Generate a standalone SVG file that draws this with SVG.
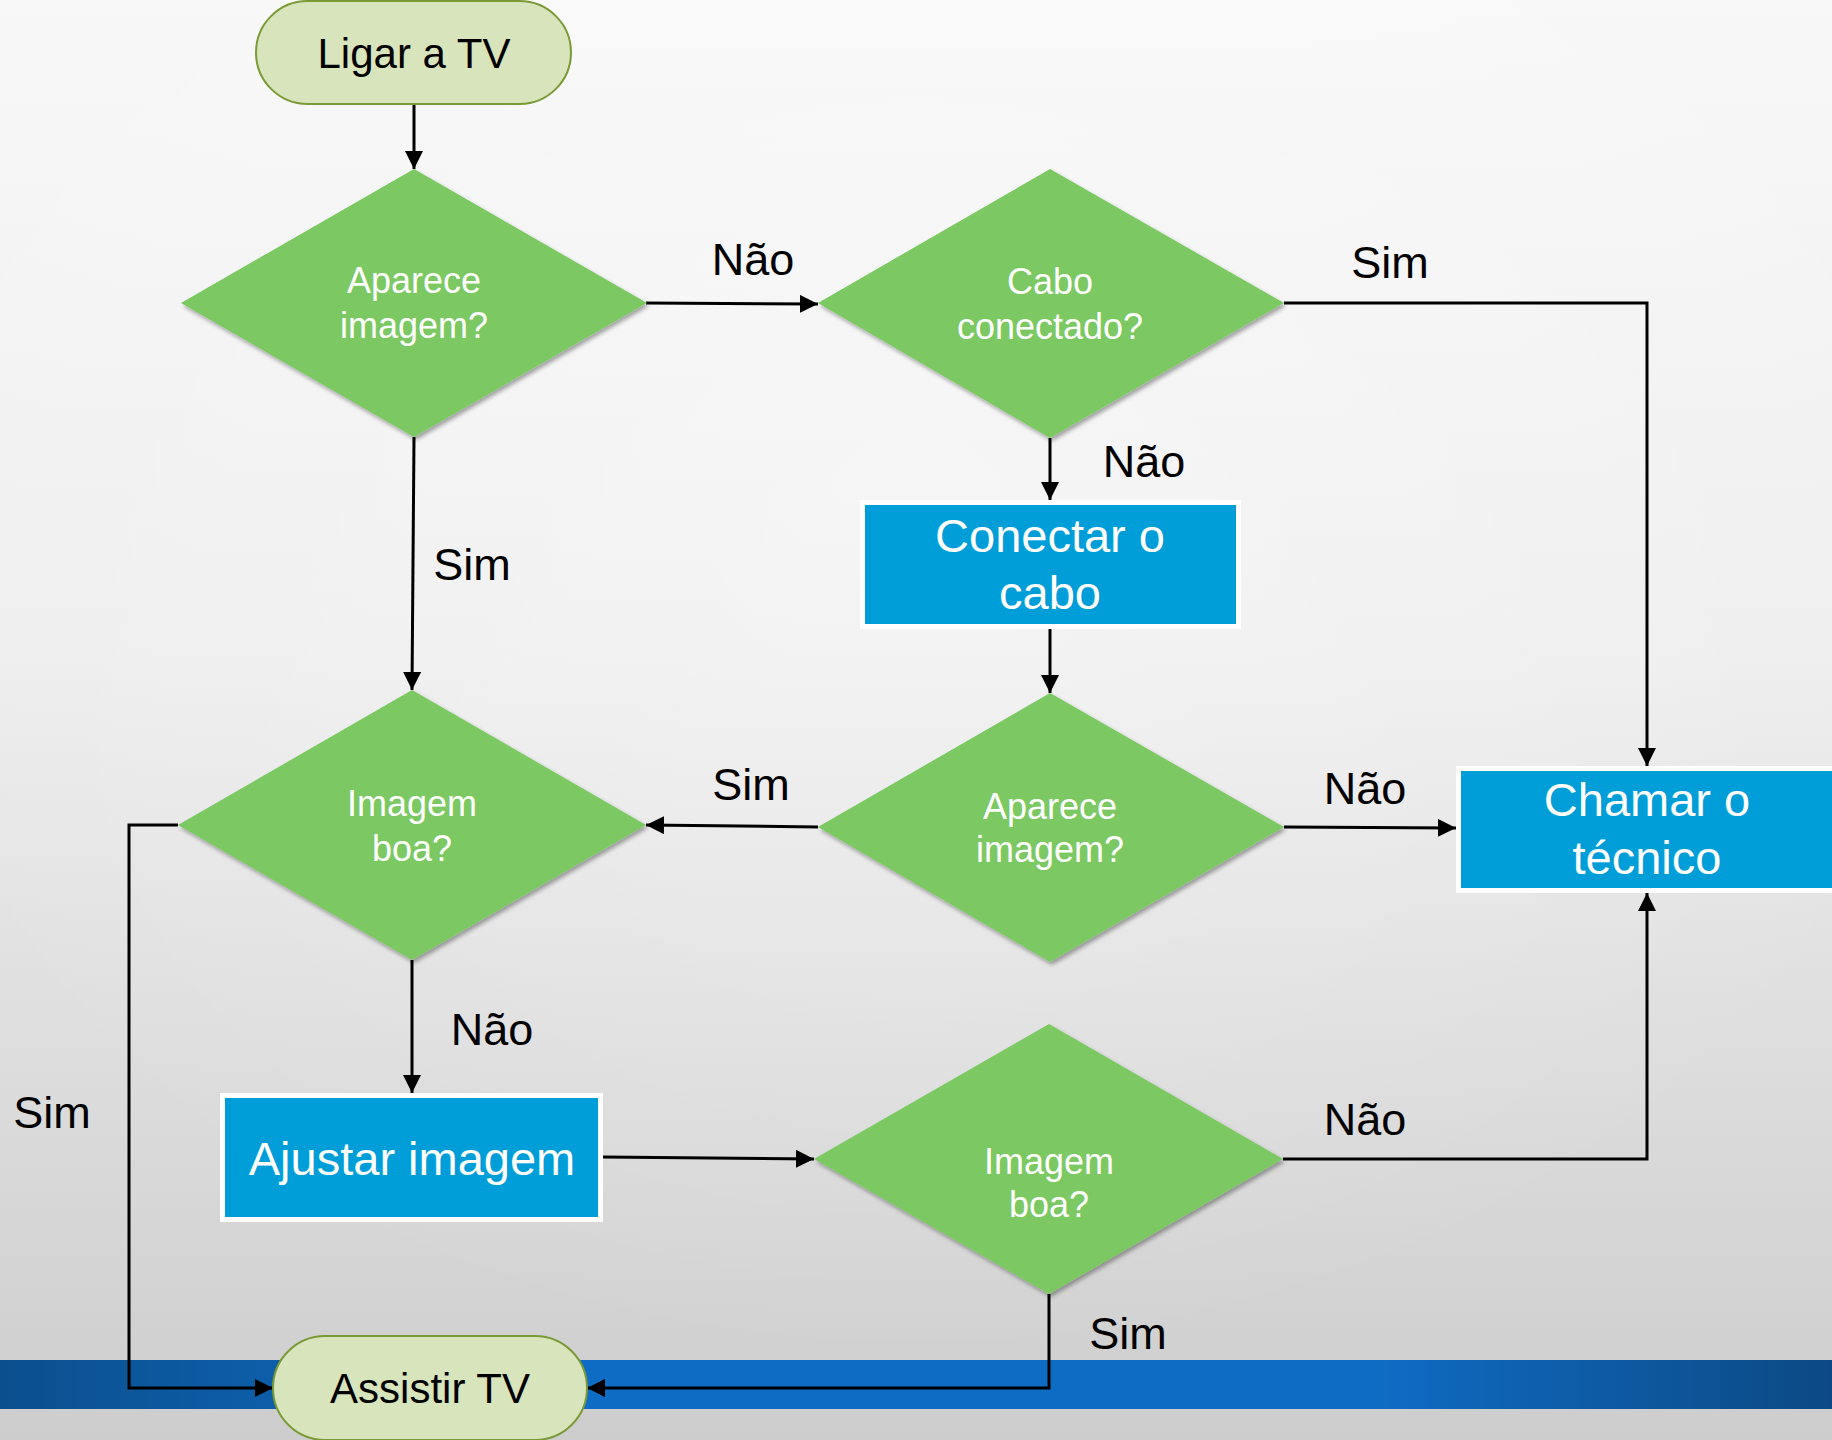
<svg xmlns="http://www.w3.org/2000/svg" width="1832" height="1440" viewBox="0 0 1832 1440">
  <defs>
    <linearGradient id="bg" x1="0" y1="0" x2="0" y2="1">
      <stop offset="0" stop-color="#f8f8f8"/>
      <stop offset="0.45" stop-color="#eeeeee"/>
      <stop offset="1" stop-color="#cdcdcd"/>
    </linearGradient>
    <radialGradient id="glow" cx="0.5" cy="0.35" r="0.6">
      <stop offset="0" stop-color="#ffffff" stop-opacity="0.35"/>
      <stop offset="1" stop-color="#ffffff" stop-opacity="0"/>
    </radialGradient>
    <linearGradient id="band" x1="0" y1="0" x2="1" y2="0">
      <stop offset="0" stop-color="#0b4f8e"/>
      <stop offset="0.3" stop-color="#0f6cc4"/>
      <stop offset="0.75" stop-color="#0f6cc4"/>
      <stop offset="1" stop-color="#0c4984"/>
    </linearGradient>
    <filter id="shadow" x="-10%" y="-10%" width="125%" height="125%">
      <feGaussianBlur in="SourceAlpha" stdDeviation="2"/>
      <feOffset dx="2" dy="3" result="b"/>
      <feComponentTransfer><feFuncA type="linear" slope="0.35"/></feComponentTransfer>
      <feMerge><feMergeNode/><feMergeNode in="SourceGraphic"/></feMerge>
    </filter>
    <marker id="arrow" viewBox="0 0 10 10" refX="10" refY="5" markerWidth="6" markerHeight="6" markerUnits="strokeWidth" orient="auto">
      <path d="M0,0 L10,5 L0,10 z" fill="#000"/>
    </marker>
    <style>
      .term { fill: #d7e4bc; stroke: #7a9a35; stroke-width: 2; }
      .dec { fill: #7bc862; filter: url(#shadow); }
      .proc { fill: #009ed9; stroke: #ffffff; stroke-width: 5; }
      .t { font-family: "Liberation Sans", Arial, sans-serif; text-anchor: middle; }
      .dtxt { font-size: 36px; fill: #ffffff; }
      .ptxt { font-size: 47px; fill: #ffffff; }
      .ttxt { font-size: 42px; fill: #000000; }
      .lbl { font-family: "Liberation Sans", Arial, sans-serif; font-size: 45px; fill: #000000; }
      .edge { fill: none; stroke: #000000; stroke-width: 3; marker-end: url(#arrow); }
      .edge0 { fill: none; stroke: #000000; stroke-width: 3; }
    </style>
  </defs>

  <!-- backdrop -->
  <rect x="0" y="0" width="1832" height="1440" fill="url(#bg)"/>
  <rect x="0" y="0" width="1832" height="1440" fill="url(#glow)"/>
  <rect x="0" y="1360" width="1832" height="49" fill="url(#band)"/>

  <!-- connectors -->
  <g id="connectors">
    <path class="edge" d="M414,104 L414,169"/>
    <path class="edge" d="M646,303 L818,304"/>
    <path class="edge" d="M1284,303 L1647,303 L1647,766"/>
    <path class="edge" d="M1050,438 L1050,500"/>
    <path class="edge" d="M1050,629 L1050,693"/>
    <path class="edge" d="M414,437 L412,690"/>
    <path class="edge" d="M818,827 L646,825"/>
    <path class="edge" d="M1284,827 L1456,828"/>
    <path class="edge" d="M412,960 L412,1093"/>
    <path class="edge" d="M603,1157 L814,1159"/>
    <path class="edge" d="M1283,1159 L1647,1159 L1647,893"/>
    <path class="edge" d="M178,825 L129,825 L129,1388 L273,1388"/>
    <path class="edge" d="M1049,1294 L1049,1388 L587,1388"/>
  </g>

  <!-- edge labels -->
  <g id="labels">
    <text class="lbl" x="753" y="275" text-anchor="middle">Não</text>
    <text class="lbl" x="1390" y="278" text-anchor="middle">Sim</text>
    <text class="lbl" x="1144" y="477" text-anchor="middle">Não</text>
    <text class="lbl" x="472" y="580" text-anchor="middle">Sim</text>
    <text class="lbl" x="751" y="800" text-anchor="middle">Sim</text>
    <text class="lbl" x="1365" y="804" text-anchor="middle">Não</text>
    <text class="lbl" x="492" y="1045" text-anchor="middle">Não</text>
    <text class="lbl" x="1365" y="1135" text-anchor="middle">Não</text>
    <text class="lbl" x="52" y="1128" text-anchor="middle">Sim</text>
    <text class="lbl" x="1128" y="1349" text-anchor="middle">Sim</text>
  </g>

  <!-- nodes -->
  <g id="start">
    <rect class="term" x="256" y="1" width="315" height="103" rx="51.5"/>
    <text class="t ttxt" x="414" y="68">Ligar a TV</text>
  </g>

  <g id="q-aparece-1">
    <polygon class="dec" points="414,169 647,303 414,437 181,303"/>
    <text class="t dtxt" x="414" y="293">Aparece</text>
    <text class="t dtxt" x="414" y="338">imagem?</text>
  </g>

  <g id="q-cabo">
    <polygon class="dec" points="1050,169 1284,303 1050,438 818,303"/>
    <text class="t dtxt" x="1050" y="294">Cabo</text>
    <text class="t dtxt" x="1050" y="339">conectado?</text>
  </g>

  <g id="conectar">
    <rect class="proc" x="862.5" y="502.5" width="376" height="124"/>
    <text class="t ptxt" x="1050" y="552">Conectar o</text>
    <text class="t ptxt" x="1050" y="609">cabo</text>
  </g>

  <g id="q-aparece-2">
    <polygon class="dec" points="1050,693 1284,827 1050,962 818,827"/>
    <text class="t dtxt" x="1050" y="819">Aparece</text>
    <text class="t dtxt" x="1050" y="862">imagem?</text>
  </g>

  <g id="tecnico">
    <rect class="proc" x="1458.5" y="768.5" width="380" height="122"/>
    <text class="t ptxt" x="1647" y="816">Chamar o</text>
    <text class="t ptxt" x="1647" y="874">técnico</text>
  </g>

  <g id="q-boa-1">
    <polygon class="dec" points="412,690 646,825 412,960 178,825"/>
    <text class="t dtxt" x="412" y="816">Imagem</text>
    <text class="t dtxt" x="412" y="861">boa?</text>
  </g>

  <g id="ajustar">
    <rect class="proc" x="222.5" y="1095.5" width="378" height="124"/>
    <text class="t ptxt" x="412" y="1175">Ajustar imagem</text>
  </g>

  <g id="q-boa-2">
    <polygon class="dec" points="1049,1024 1283,1159 1049,1294 814,1159"/>
    <text class="t dtxt" x="1049" y="1174">Imagem</text>
    <text class="t dtxt" x="1049" y="1217">boa?</text>
  </g>

  <g id="end">
    <rect class="term" x="273" y="1336" width="314" height="104" rx="52"/>
    <text class="t ttxt" x="430" y="1403">Assistir TV</text>
  </g>
</svg>
